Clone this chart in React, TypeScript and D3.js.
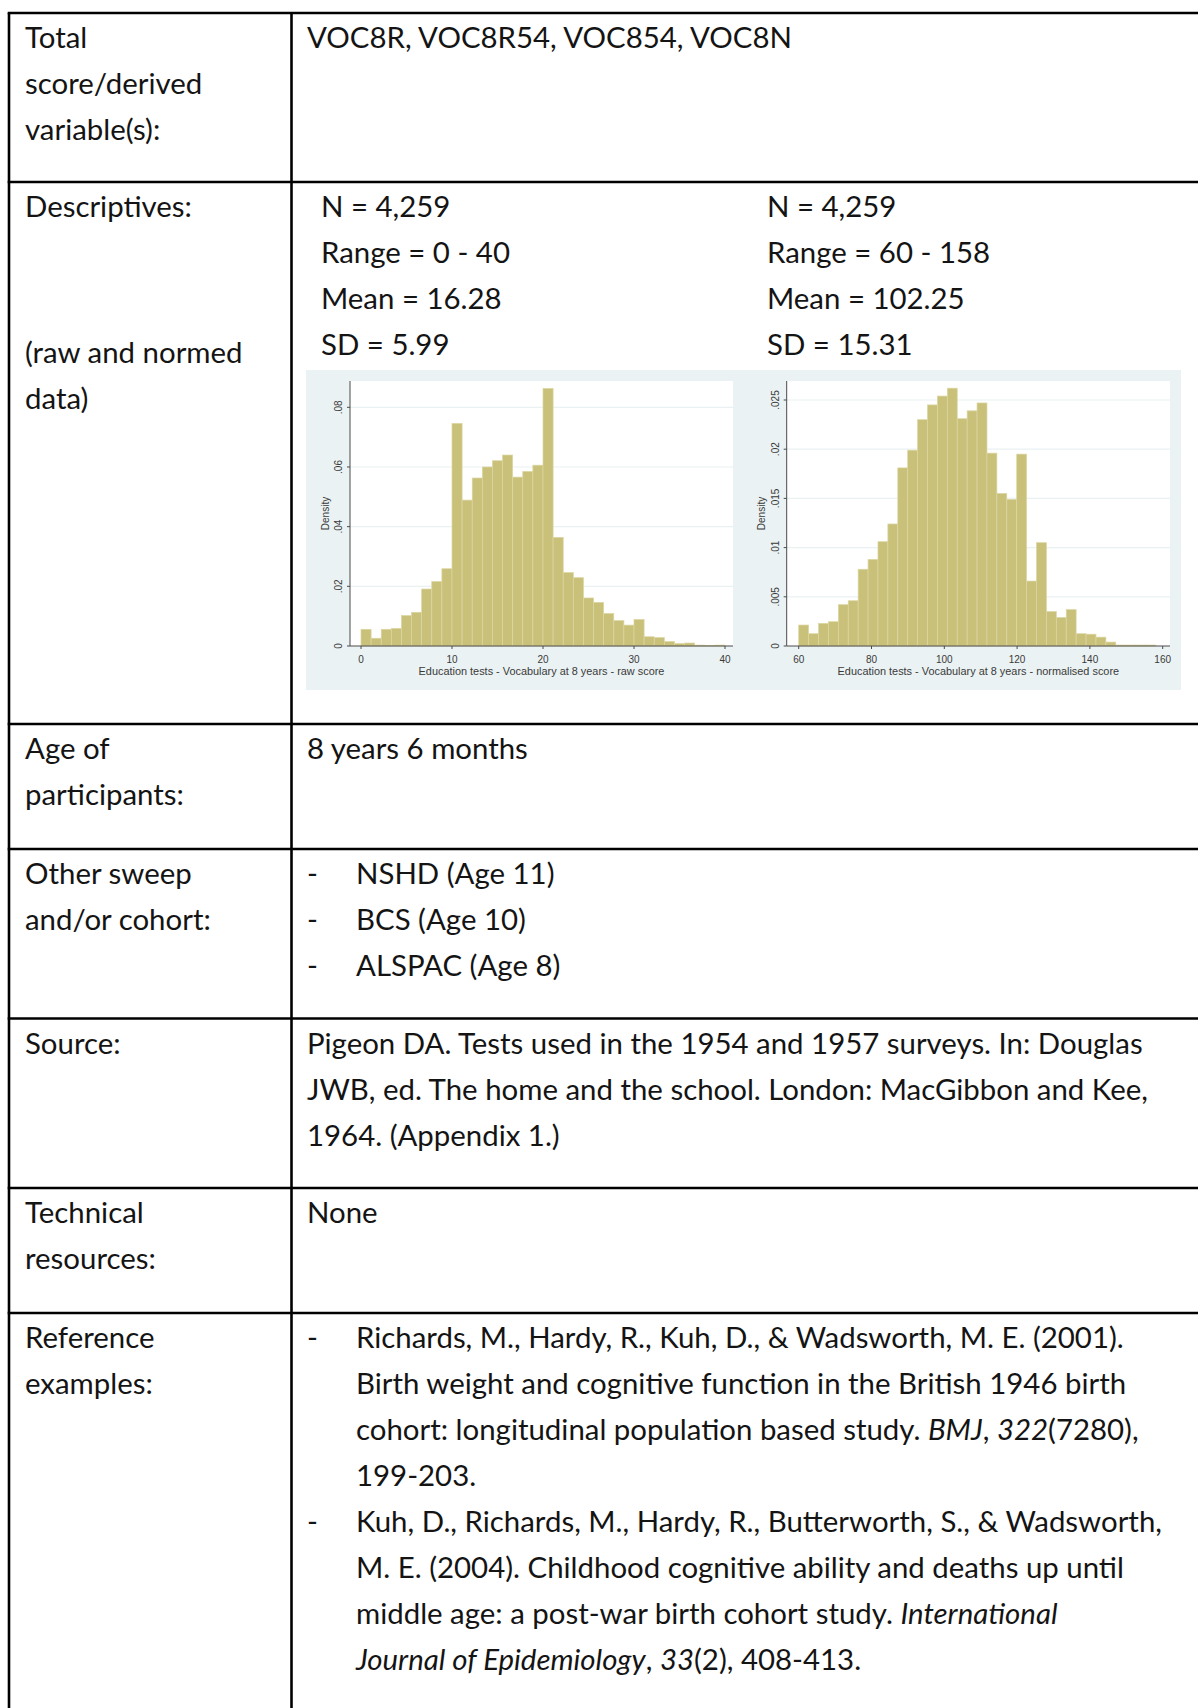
import React from 'react';
import * as d3 from 'd3';

// ---------- Data ----------
const rawDensity = [
  0.0056, 0.0026, 0.0056, 0.0059, 0.0102, 0.0113, 0.0191, 0.0216, 0.0259,
  0.0746, 0.0489, 0.0563, 0.0600, 0.0621, 0.0640, 0.0566, 0.0585, 0.0606,
  0.0863, 0.0364, 0.0246, 0.0229, 0.0161, 0.0146, 0.0109, 0.0085, 0.0070,
  0.0089, 0.0031, 0.0028, 0.0015, 0.0008, 0.0010, 0.0003, 0.0002, 0.0003,
];
const normDensity = [
  0.00213, 0.00125, 0.0023, 0.00247, 0.0042, 0.0046, 0.0078, 0.0088, 0.0106,
  0.0124, 0.0181, 0.0199, 0.0230, 0.0245, 0.0254, 0.0262, 0.0231, 0.0239,
  0.0247, 0.0196, 0.0155, 0.0149, 0.0195, 0.0066, 0.0105, 0.0035, 0.0029,
  0.0037, 0.00125, 0.0012, 0.0009, 0.0004, 0.0001, 0.0001, 0.0001, 0.0001,
];
const rawRange = [0, 40];
const normRange = [60, 158];
const rawXTicks = [0, 10, 20, 30, 40];
const normXTicks = [60, 80, 100, 120, 140, 160];
const rawYTicks = [0, 0.02, 0.04, 0.06, 0.08];
const rawYTickLabels = ['0', '.02', '.04', '.06', '.08'];
const normYTicks = [0, 0.005, 0.01, 0.015, 0.02, 0.025];
const normYTickLabels = ['0', '.005', '.01', '.015', '.02', '.025'];
const rawTitle = 'Education tests - Vocabulary at 8 years - raw score';
const normTitle = 'Education tests - Vocabulary at 8 years - normalised score';
const yTitle = 'Density';

// ---------- Table text ----------
const row1Label = ['Total', 'score/derived', 'variable(s):'];
const row1Value = 'VOC8R, VOC8R54, VOC854, VOC8N';
const row2Label = ['Descriptives:'];
const row2LabelLower = ['(raw and normed', 'data)'];
const descA = ['N = 4,259', 'Range = 0 - 40', 'Mean = 16.28', 'SD = 5.99'];
const descB = ['N = 4,259', 'Range = 60 - 158', 'Mean = 102.25', 'SD = 15.31'];
const row3Label = ['Age of', 'participants:'];
const row3Value = '8 years 6 months';
const row4Label = ['Other sweep', 'and/or cohort:'];
const row4Items = ['NSHD (Age 11)', 'BCS (Age 10)', 'ALSPAC (Age 8)'];
const row5Label = ['Source:'];
const row5Value = [
  'Pigeon DA. Tests used in the 1954 and 1957 surveys. In: Douglas',
  'JWB, ed. The home and the school. London: MacGibbon and Kee,',
  '1964. (Appendix 1.)',
];
const row6Label = ['Technical', 'resources:'];
const row6Value = 'None';
const row7Label = ['Reference', 'examples:'];
type Seg = [string, boolean];
const ref1: Seg[][] = [
  [['Richards, M., Hardy, R., Kuh, D., & Wadsworth, M. E. (2001).', false]],
  [['Birth weight and cognitive function in the British 1946 birth', false]],
  [['cohort: longitudinal population based study. ', false], ['BMJ', true], [', ', false], ['322', true], ['(7280),', false]],
  [['199-203.', false]],
];
const ref2: Seg[][] = [
  [['Kuh, D., Richards, M., Hardy, R., Butterworth, S., & Wadsworth,', false]],
  [['M. E. (2004). Childhood cognitive ability and deaths up until', false]],
  [['middle age: a post-war birth cohort study. ', false], ['International', true]],
  [['Journal of Epidemiology', true], [', ', false], ['33', true], ['(2), 408-413.', false]],
];

// ---------- Layout ----------
const W = 1198;
const H = 1708;
const rowTops = [13, 182, 724, 849, 1018.5, 1188, 1313];
const LEFT = 9;
const DIV = 291.5;
const LBL_X = 25;
const VAL_X = 307;
const DASH_X = 307;
const ITEM_X = 356;
const COLA_X = 321;
const COLB_X = 767;
const LH = 46;
const FIRST = 35;
const FONT = 'Lato, "Noto Sans", sans-serif';
const FS = 29.4;
const TXT = '#141414';

const bl = (row: number, i: number) => rowTops[row] + FIRST + i * LH;

type HistProps = {
  data: number[];
  range: number[];
  xTicks: number[];
  yTicks: number[];
  yLabels: string[];
  title: string;
  xDomain: number[];
  xPx: number[];
  yDomain: number[];
  yPx: number[];
  plot: { l: number; r: number; t: number; b: number };
};

function Histogram(p: HistProps) {
  const x = d3.scaleLinear().domain(p.xDomain).range(p.xPx);
  const y = d3.scaleLinear().domain(p.yDomain).range(p.yPx);
  const n = p.data.length;
  const bw = (p.range[1] - p.range[0]) / n;
  const af = 'Arial, "Liberation Sans", sans-serif';
  const axisCol = '#4a4a4a';
  const labCol = '#3a3a3a';
  return (
    <g>
      <rect x={p.plot.l} y={p.plot.t} width={p.plot.r - p.plot.l} height={p.plot.b - p.plot.t} fill="#ffffff" />
      {p.yTicks.filter((t) => t > 0).map((t) => (
        <line key={'g' + t} x1={p.plot.l} x2={p.plot.r} y1={y(t)} y2={y(t)} stroke="#eaf1f3" strokeWidth={1.2} />
      ))}
      {p.data.map((d, i) => {
        const x0 = x(p.range[0] + i * bw);
        const x1 = x(p.range[0] + (i + 1) * bw);
        return (
          <rect key={i} x={x0} y={y(d)} width={x1 - x0} height={y(0) - y(d)} fill="#c9c07a" stroke="#dcd6a2" strokeWidth={0.7} />
        );
      })}
      <line x1={p.plot.l} x2={p.plot.l} y1={p.plot.t} y2={p.plot.b} stroke={axisCol} strokeWidth={1} />
      <line x1={p.plot.l} x2={p.plot.r} y1={p.plot.b} y2={p.plot.b} stroke={axisCol} strokeWidth={1} />
      {p.yTicks.map((t, i) => (
        <g key={'y' + t}>
          <line x1={p.plot.l - 3} x2={p.plot.l} y1={y(t)} y2={y(t)} stroke={axisCol} strokeWidth={1} />
          <text transform={`translate(${p.plot.l - 11.7},${y(t)}) rotate(-90)`} textAnchor="middle" dominantBaseline="central" fontFamily={af} fontSize={10} fill={labCol}>
            {p.yLabels[i]}
          </text>
        </g>
      ))}
      {p.xTicks.map((t) => (
        <g key={'x' + t}>
          <line x1={x(t)} x2={x(t)} y1={p.plot.b} y2={p.plot.b + 3} stroke={axisCol} strokeWidth={1} />
          <text x={x(t)} y={p.plot.b + 13} textAnchor="middle" dominantBaseline="central" fontFamily={af} fontSize={10} fill={labCol}>
            {t}
          </text>
        </g>
      ))}
      <text x={(p.plot.l + p.plot.r) / 2} y={p.plot.b + 25} textAnchor="middle" dominantBaseline="central" fontFamily={af} fontSize={10.9} fill={labCol}>
        {p.title}
      </text>
      <text transform={`translate(${p.plot.l - 25},${(p.plot.t + p.plot.b) / 2}) rotate(-90)`} textAnchor="middle" dominantBaseline="central" fontFamily={af} fontSize={10} fill={labCol}>
        {yTitle}
      </text>
    </g>
  );
}

function Lines({ x, ys, lines }: { x: number; ys: number[]; lines: string[] }) {
  return (
    <>
      {lines.map((s, i) => (
        <text key={i} x={x} y={ys[i]}>{s}</text>
      ))}
    </>
  );
}

function SegLine({ x, y, segs }: { x: number; y: number; segs: Seg[] }) {
  return (
    <text x={x} y={y}>
      {segs.map(([s, it], i) => (
        <tspan key={i} fontStyle={it ? 'italic' : 'normal'}>{s}</tspan>
      ))}
    </text>
  );
}

export default function App() {
  const lineCol = '#000';
  const lw = 2.6;
  return (
    <svg width={W} height={H} style={{ position: 'absolute', left: 0, top: 0, display: 'block' }} xmlns="http://www.w3.org/2000/svg">
      <rect x={0} y={0} width={W} height={H} fill="#ffffff" />
      <rect x={306} y={370} width={875} height={320} fill="#eaf2f3" />
      <Histogram
        data={rawDensity}
        range={rawRange}
        xTicks={rawXTicks}
        yTicks={rawYTicks}
        yLabels={rawYTickLabels}
        title={rawTitle}
        xDomain={[0, 40]}
        xPx={[361, 725]}
        yDomain={[0, 0.08]}
        yPx={[646, 407.3]}
        plot={{ l: 350, r: 733, t: 381, b: 646 }}
      />
      <Histogram
        data={normDensity}
        range={normRange}
        xTicks={normXTicks}
        yTicks={normYTicks}
        yLabels={normYTickLabels}
        title={normTitle}
        xDomain={[60, 160]}
        xPx={[798.7, 1162.7]}
        yDomain={[0, 0.025]}
        yPx={[646, 400]}
        plot={{ l: 786.7, r: 1170, t: 381, b: 646 }}
      />
      {rowTops.map((y, i) => (
        <line key={'h' + i} x1={LEFT - lw / 2} x2={W} y1={y} y2={y} stroke={lineCol} strokeWidth={lw} />
      ))}
      <line x1={LEFT} x2={LEFT} y1={rowTops[0]} y2={H} stroke={lineCol} strokeWidth={lw} />
      <line x1={DIV} x2={DIV} y1={rowTops[0]} y2={H} stroke={lineCol} strokeWidth={lw} />

      <g fontFamily={FONT} fontSize={FS} fill={TXT}>
        <Lines x={LBL_X} ys={row1Label.map((_, i) => bl(0, i))} lines={row1Label} />
        <text x={VAL_X} y={bl(0, 0)}>{row1Value}</text>
        <Lines x={LBL_X} ys={[bl(1, 0)]} lines={row2Label} />
        <Lines x={LBL_X} ys={[rowTops[1] + 181, rowTops[1] + 227]} lines={row2LabelLower} />
        <Lines x={COLA_X} ys={descA.map((_, i) => bl(1, i))} lines={descA} />
        <Lines x={COLB_X} ys={descB.map((_, i) => bl(1, i))} lines={descB} />
        <Lines x={LBL_X} ys={row3Label.map((_, i) => bl(2, i))} lines={row3Label} />
        <text x={VAL_X} y={bl(2, 0)}>{row3Value}</text>
        <Lines x={LBL_X} ys={row4Label.map((_, i) => bl(3, i))} lines={row4Label} />
        {row4Items.map((s, i) => (
          <g key={i}>
            <text x={DASH_X} y={bl(3, i)}>-</text>
            <text x={ITEM_X} y={bl(3, i)}>{s}</text>
          </g>
        ))}
        <Lines x={LBL_X} ys={[bl(4, 0)]} lines={row5Label} />
        <Lines x={VAL_X} ys={row5Value.map((_, i) => bl(4, i))} lines={row5Value} />
        <Lines x={LBL_X} ys={row6Label.map((_, i) => bl(5, i))} lines={row6Label} />
        <text x={VAL_X} y={bl(5, 0)}>{row6Value}</text>
        <Lines x={LBL_X} ys={row7Label.map((_, i) => bl(6, i))} lines={row7Label} />
        <text x={DASH_X} y={bl(6, 0)}>-</text>
        {ref1.map((segs, i) => (
          <SegLine key={'a' + i} x={ITEM_X} y={bl(6, i)} segs={segs} />
        ))}
        <text x={DASH_X} y={bl(6, 4)}>-</text>
        {ref2.map((segs, i) => (
          <SegLine key={'b' + i} x={ITEM_X} y={bl(6, 4 + i)} segs={segs} />
        ))}
      </g>
    </svg>
  );
}
